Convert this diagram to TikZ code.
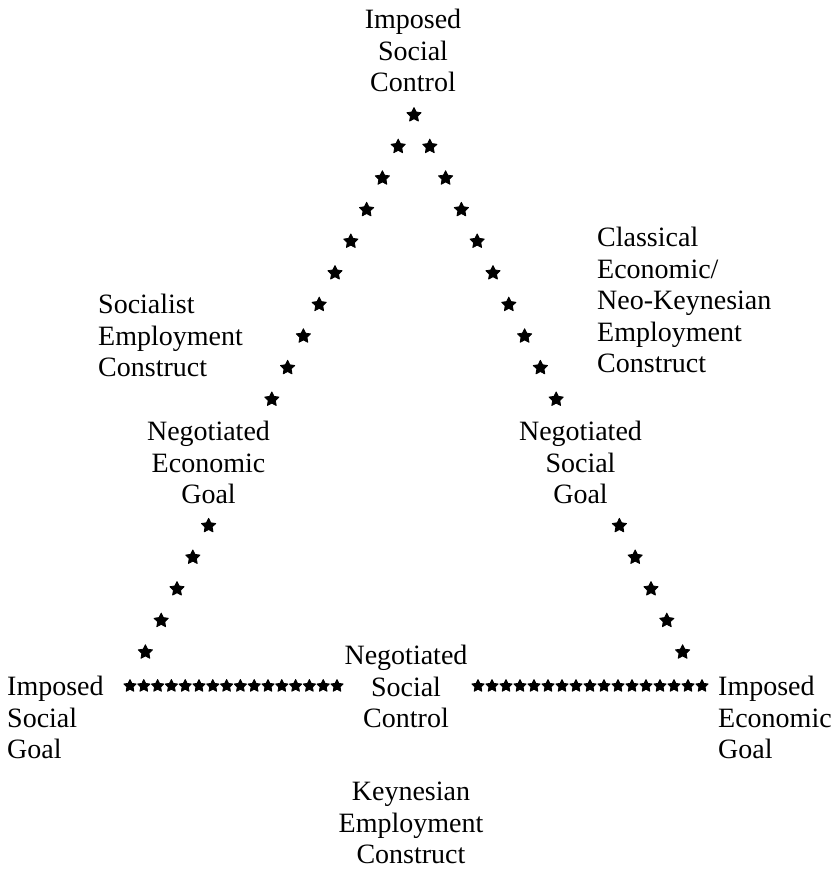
\documentclass[tikz,border=0pt]{standalone}
\usepackage{fontspec}
\setmainfont{Liberation Serif}
\usetikzlibrary{shapes.geometric}
\begin{document}
\begin{tikzpicture}[x=1pt,y=-1pt,
  lbl/.style={inner sep=0pt, font=\fontsize{28}{31.5}\selectfont},
  starmark/.style={star, star points=5, star point ratio=2.0, fill=black, draw=black, line width=0.8pt, line join=round, inner sep=0pt, minimum size=15pt},
  rowstar/.style={starmark, minimum size=13pt}]
\useasboundingbox (0,0) rectangle (837,871);
% labels
\node[lbl, align=center, anchor=north] (top) at (413,9) {Imposed\\Social\\Control};
\node[lbl, align=left, anchor=north west] (soc) at (98,294) {Socialist\\Employment\\Construct};
\node[lbl, align=left, anchor=north west] (cls) at (597,227) {Classical\\Economic/\\Neo-Keynesian\\Employment\\Construct};
\node[lbl, align=center, anchor=north] (neg) at (208.5,421) {Negotiated\\Economic\\Goal};
\node[lbl, align=center, anchor=north] (nsg) at (580.5,421) {Negotiated\\Social\\Goal};
\node[lbl, align=center, anchor=north] (nsc) at (406,645) {Negotiated\\Social\\Control};
\node[lbl, align=left, anchor=north west] (isg) at (7,676) {Imposed\\Social\\Goal};
\node[lbl, align=left, anchor=north west] (ieg) at (718,676) {Imposed\\Economic\\Goal};
\node[lbl, align=center, anchor=north] (key) at (411,782) {Keynesian\\Employment\\Construct};
% diagonal stars
\node[starmark] (s0) at (414,115) {};
\foreach \k in {1,...,9,13,14,15,16,17} {
  \node[starmark] (l\k) at ({414-15.8*\k},{115+31.6*\k}) {};
  \node[starmark] (r\k) at ({414+15.8*\k},{115+31.6*\k}) {};
}
% horizontal rows
\foreach \i in {0,...,15} {
  \node[rowstar] (hl\i) at ({130+13.8*\i},686) {};
}
\foreach \i in {0,...,16} {
  \node[rowstar] (hr\i) at ({478+14*\i},686) {};
}
\end{tikzpicture}
\end{document}
